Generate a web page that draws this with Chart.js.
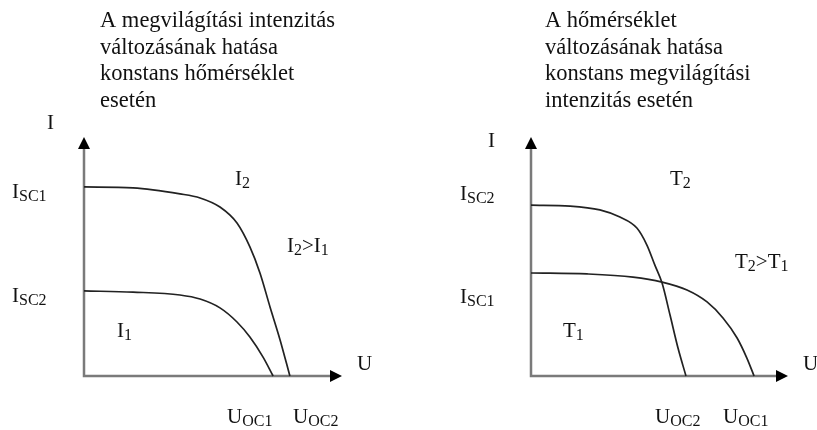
<!DOCTYPE html>
<html>
<head>
<meta charset="utf-8">
<script src="https://cdn.jsdelivr.net/npm/chart.js@4.4.1/dist/chart.umd.min.js"></script>
<style>
html,body{margin:0;padding:0;background:#fff;}
#wrap{position:relative;width:817px;height:430px;overflow:hidden;}
canvas{position:absolute;top:0;}
</style>
</head>
<body>
<div id="wrap">
<canvas id="cL" width="408" height="430" style="left:0;width:408px;height:430px"></canvas>
<canvas id="cR" width="409" height="430" style="left:408px;width:409px;height:430px"></canvas>
</div>
<script>
// ---- Data (arbitrary units, 0..100 on each axis) ----
// Left panel: effect of irradiance at constant temperature
const uLeftI2 = [0, 19.0, 37.2, 45.0, 52.7, 59.3, 64.3, 68.2, 72.1, 76.0, 79.8];
const iLeftI2 = [79.1, 78.7, 76.2, 74.5, 70.7, 64.0, 54.0, 43.1, 28.9, 15.1, 0];
const uLeftI1 = [0, 19.0, 37.2, 45.0, 52.7, 59.3, 64.3, 69.4, 73.3];
const iLeftI1 = [35.6, 35.1, 33.9, 32.2, 28.5, 22.6, 16.3, 7.9, 0];
// Right panel: effect of temperature at constant irradiance
const uRightT2 = [0, 15.2, 26.8, 34.6, 41.2, 45.1, 48.2, 51.0, 54.1, 57.2, 60.3];
const iRightT2 = [71.5, 71.1, 69.5, 66.5, 61.9, 54.8, 46.4, 38.9, 25.5, 11.7, 0];
const uRightT1 = [0, 21.8, 39.7, 51.0, 60.7, 68.5, 74.7, 80.2, 84.0, 86.8];
const iRightT1 = [43.1, 42.7, 41.4, 39.3, 36.0, 31.0, 24.3, 15.9, 7.5, 0];

// ---- Texts ----
const titleLeft = ["A megvilágítási intenzitás", "változásának hatása", "konstans hőmérséklet", "esetén"];
const titleRight = ["A hőmérséklet", "változásának hatása", "konstans megvilágítási", "intenzitás esetén"];
const labelsLeft = [
  [["I"]],
  [["I"],["SC1",1]],
  [["I"],["SC2",1]],
  [["I"],["2",1]],
  [["I"],["2",1],[">I"],["1",1]],
  [["I"],["1",1]],
  [["U"]],
  [["U"],["OC1",1]],
  [["U"],["OC2",1]]
];
const labelsRight = [
  [["I"]],
  [["I"],["SC2",1]],
  [["I"],["SC1",1]],
  [["T"],["2",1]],
  [["T"],["2",1],[">T"],["1",1]],
  [["T"],["1",1]],
  [["U"]],
  [["U"],["OC2",1]],
  [["U"],["OC1",1]]
];

// ---- Layout (page pixel positions of label baselines) ----
const posLeft = [[47,129],[12,198],[12,302],[235,185],[287,252],[117,337],[357,370],[227,423],[293,423]];
const posRight = [[488,147],[460,200],[460,303],[670,185],[735,268],[563,337],[803,370],[655,423],[723,423]];

const FONT = '"Liberation Serif","Times New Roman",serif';
const TEXT_COLOR = '#111';

function zip(xs, ys){ return xs.map((x,i)=>({x:x, y:ys[i]})); }

function drawLabel(ctx, parts, x, y){
  let cx = x;
  parts.forEach(p=>{
    const sub = p[1] === 1;
    ctx.font = (sub ? '16px ' : '21px ') + FONT;
    ctx.fillText(p[0], cx, sub ? y + 3 : y);
    cx += ctx.measureText(p[0]).width;
  });
}

function makePlugin(title, titleX, labels, positions, offsetX){
  return {
    id: 'decor',
    beforeDatasetsDraw(chart){
      const ctx = chart.ctx, a = chart.chartArea;
      ctx.save();
      ctx.strokeStyle = '#7a7a7a';
      ctx.lineWidth = 2.5;
      ctx.beginPath();
      ctx.moveTo(a.left, a.top + 8);
      ctx.lineTo(a.left, a.bottom);
      ctx.lineTo(a.right - 8, a.bottom);
      ctx.stroke();
      ctx.fillStyle = '#000';
      ctx.beginPath();
      ctx.moveTo(a.left, a.top);
      ctx.lineTo(a.left - 6, a.top + 12);
      ctx.lineTo(a.left + 6, a.top + 12);
      ctx.closePath();
      ctx.fill();
      ctx.beginPath();
      ctx.moveTo(a.right, a.bottom);
      ctx.lineTo(a.right - 12, a.bottom - 6);
      ctx.lineTo(a.right - 12, a.bottom + 6);
      ctx.closePath();
      ctx.fill();
      ctx.restore();
    },
    afterDraw(chart){
      const ctx = chart.ctx;
      ctx.save();
      ctx.fillStyle = TEXT_COLOR;
      ctx.textBaseline = 'alphabetic';
      ctx.textAlign = 'left';
      ctx.font = '22.5px ' + FONT;
      title.forEach((t,i)=>{ ctx.fillText(t, titleX - offsetX, 27 + i*26.5); });
      labels.forEach((parts,i)=>{
        drawLabel(ctx, parts, positions[i][0] - offsetX, positions[i][1]);
      });
      ctx.restore();
    }
  };
}

function makeChart(id, datasets, padding, plugin){
  return new Chart(document.getElementById(id), {
    type: 'line',
    data: { datasets: datasets.map(d=>({
      data: d,
      borderColor: '#222',
      borderWidth: 1.7,
      pointRadius: 0,
      fill: false,
      cubicInterpolationMode: 'monotone',
      clip: false
    })) },
    options: {
      responsive: false,
      animation: false,
      layout: { padding: padding },
      plugins: { legend: {display:false}, tooltip: {enabled:false}, title:{display:false} },
      scales: {
        x: { type:'linear', min:0, max:100, display:false },
        y: { type:'linear', min:0, max:100, display:false }
      }
    },
    plugins: [plugin]
  });
}

makeChart('cL', [zip(uLeftI2, iLeftI2), zip(uLeftI1, iLeftI1)],
  {left:84, right:66, top:137, bottom:54},
  makePlugin(titleLeft, 100, labelsLeft, posLeft, 0));
makeChart('cR', [zip(uRightT2, iRightT2), zip(uRightT1, iRightT1)],
  {left:123, right:29, top:137, bottom:54},
  makePlugin(titleRight, 545, labelsRight, posRight, 408));
</script>
</body>
</html>
